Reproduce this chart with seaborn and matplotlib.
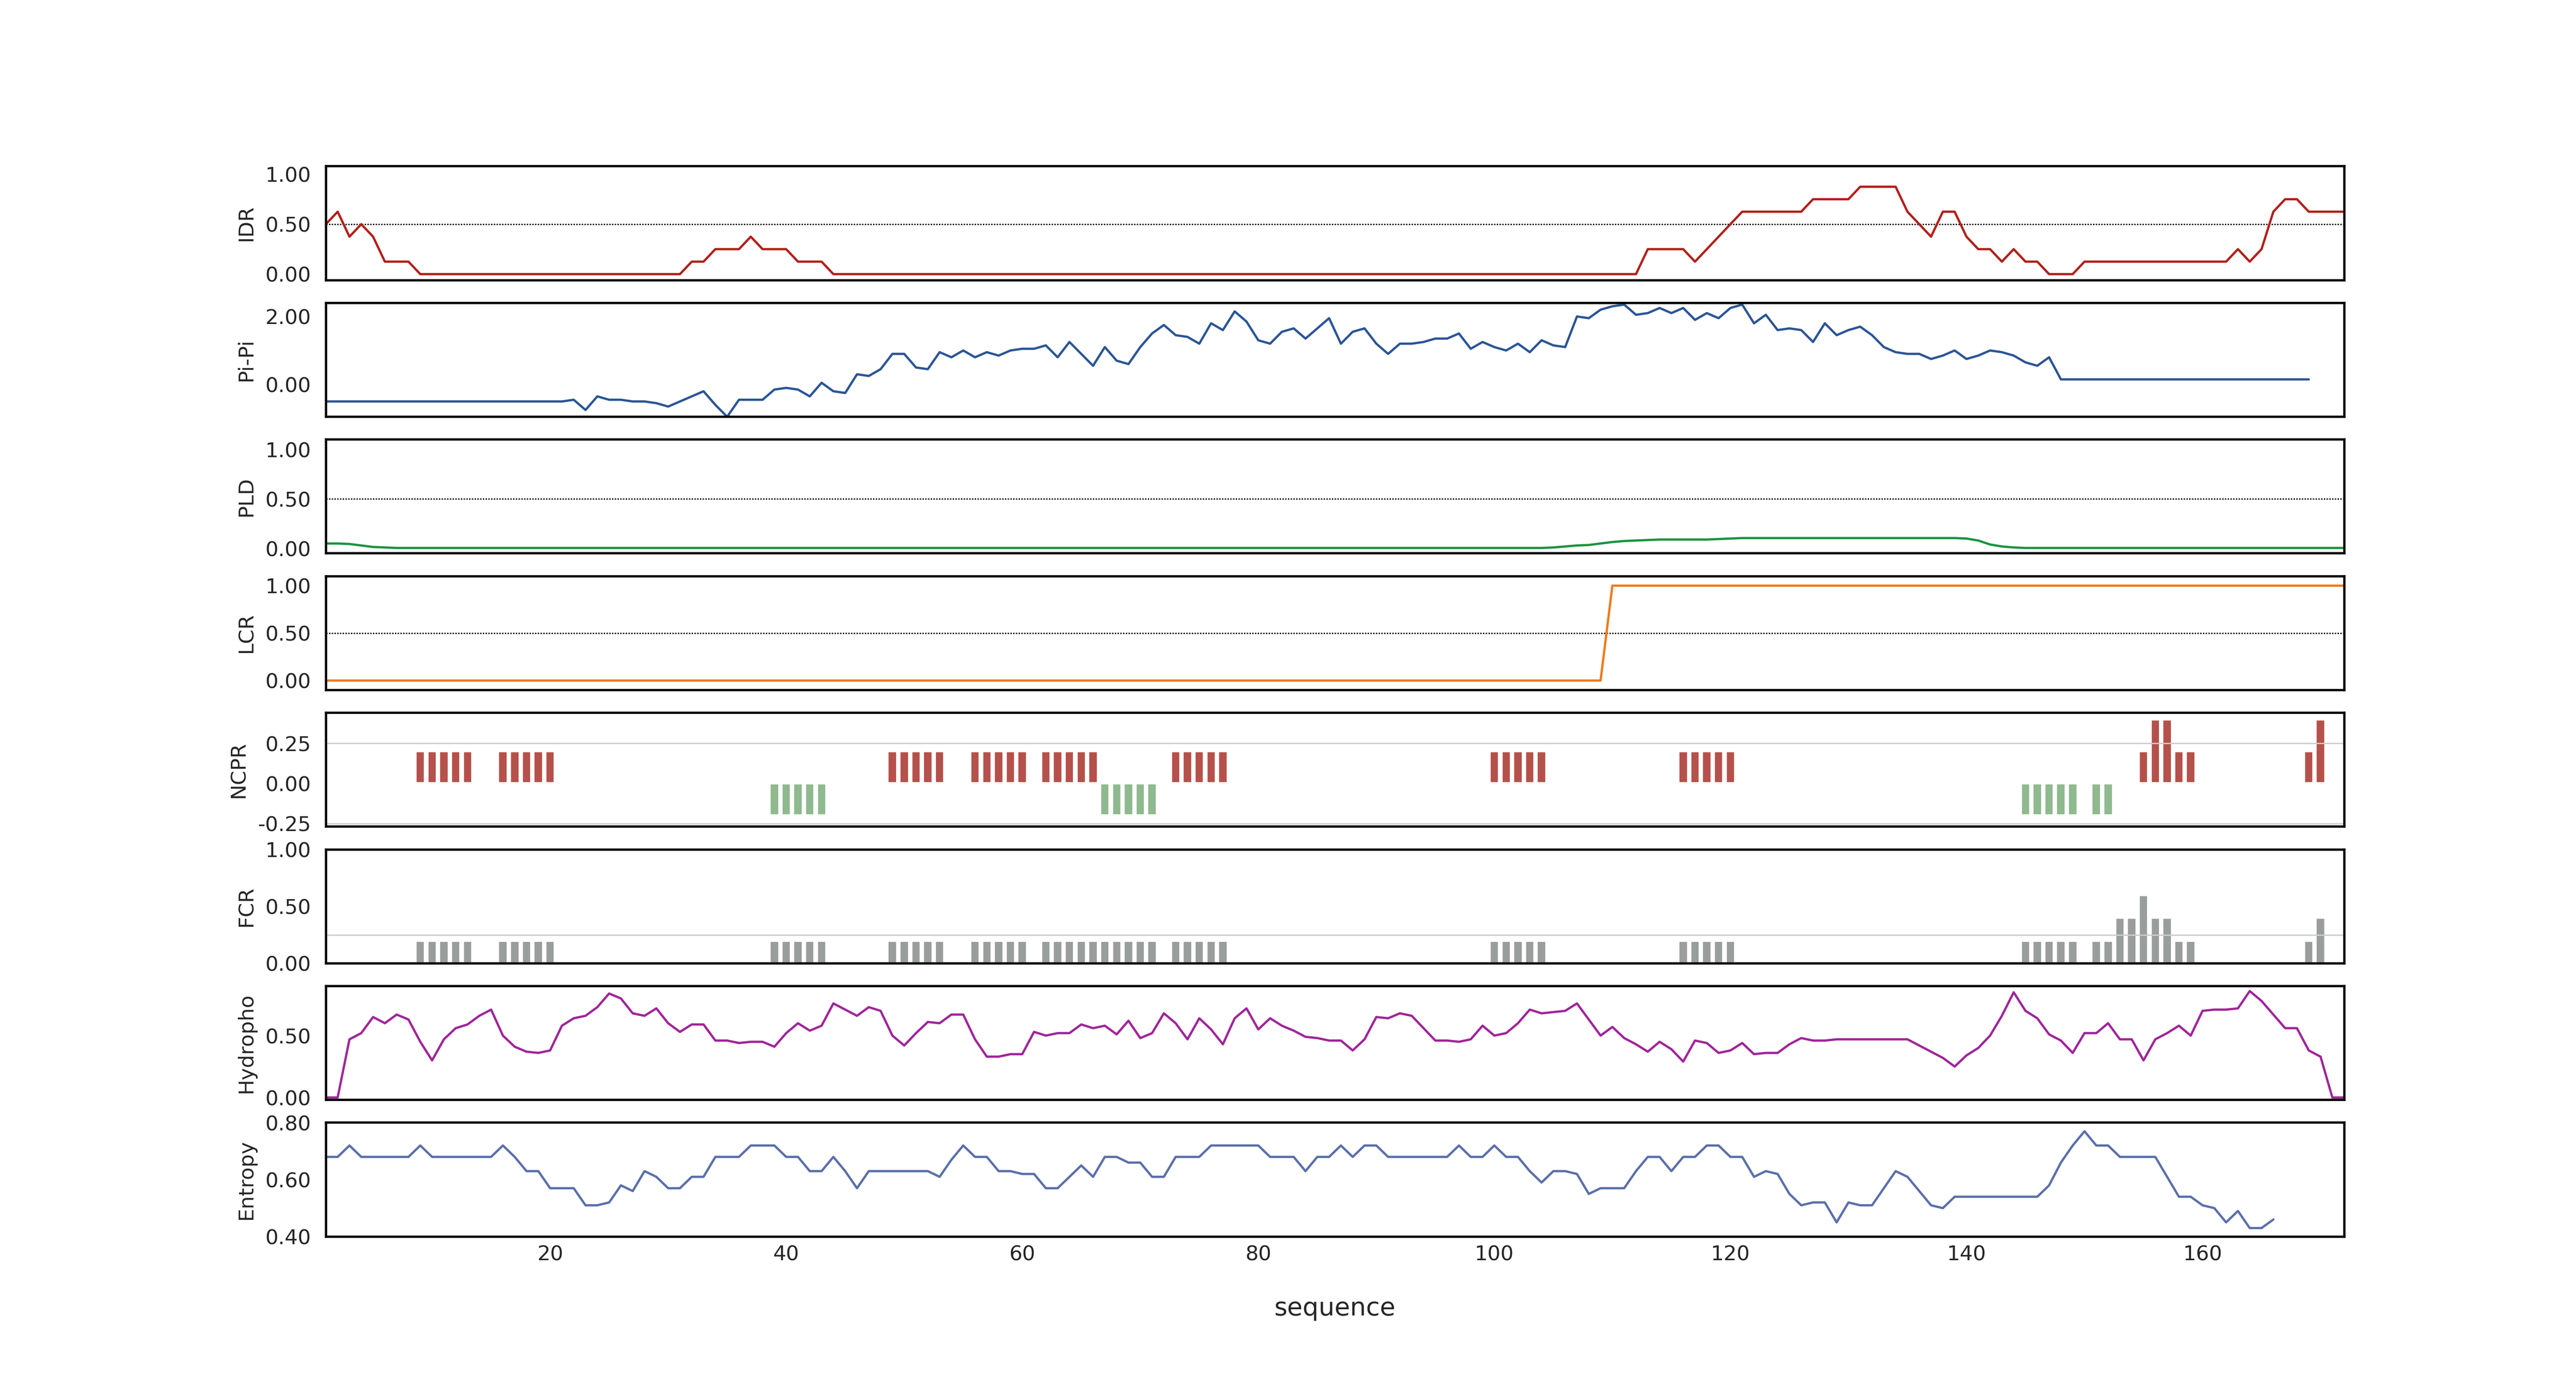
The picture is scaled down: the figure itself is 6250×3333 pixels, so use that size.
import numpy as np
import pandas as pd
import matplotlib
matplotlib.use("Agg")
import matplotlib.pyplot as plt
import seaborn as sns

# --- DATA ---
IDR = ([0.5, 0.625, 0.375, 0.5, 0.375] + [0.125] * 3 + [0.0] * 23
       + [0.125] * 2 + [0.25] * 3 + [0.375] + [0.25] * 3 + [0.125] * 3
       + [0.0] * 69 + [0.25] * 4 + [0.125, 0.25, 0.375, 0.5] + [0.625] * 6
       + [0.75] * 4 + [0.875] * 4 + [0.625, 0.5, 0.375, 0.625, 0.625, 0.375,
       0.25, 0.25, 0.125, 0.25, 0.125, 0.125] + [0.0] * 3 + [0.125] * 13
       + [0.25, 0.125, 0.25, 0.625, 0.75, 0.75] + [0.625] * 4)

PIPI = ([-0.5] * 21 + [-0.45, -0.75, -0.35, -0.45, -0.45, -0.5, -0.5, -0.55,
        -0.65, -0.5, -0.35, -0.2, -0.6, -0.95, -0.45, -0.45, -0.45, -0.15,
        -0.1, -0.15, -0.35, 0.05, -0.2, -0.25, 0.3, 0.25, 0.45, 0.9, 0.9,
        0.5, 0.45, 0.95, 0.8, 1.0, 0.8, 0.95, 0.85, 1.0, 1.05, 1.05, 1.15,
        0.8, 1.25, 0.9, 0.55, 1.1, 0.7, 0.6, 1.1, 1.5, 1.75, 1.45, 1.4, 1.2,
        1.8, 1.6, 2.15, 1.85, 1.3, 1.2, 1.55, 1.65, 1.35, 1.65, 1.95, 1.2,
        1.55, 1.65, 1.2, 0.9, 1.2, 1.2, 1.25, 1.35, 1.35, 1.5, 1.05, 1.25,
        1.1, 1.0, 1.2, 0.95, 1.3, 1.15, 1.1, 2.0, 1.95, 2.2, 2.3, 2.35, 2.05,
        2.1, 2.25, 2.1, 2.25, 1.9, 2.1, 1.95, 2.25, 2.35, 1.8, 2.05, 1.6,
        1.65, 1.6, 1.25, 1.8, 1.45, 1.6, 1.7, 1.45, 1.1, 0.95, 0.9, 0.9,
        0.75, 0.85, 1.0, 0.75, 0.85, 1.0, 0.95, 0.85, 0.65, 0.55, 0.8]
        + [0.15] * 22)

PLD = ([0.05, 0.05, 0.045, 0.03, 0.015, 0.01] + [0.005] * 98
       + [0.01, 0.02, 0.03, 0.035, 0.05, 0.065, 0.075, 0.08, 0.085, 0.09,
          0.09, 0.09, 0.09, 0.09, 0.095, 0.1, 0.105] + [0.105] * 18
       + [0.1, 0.08, 0.04, 0.02, 0.01] + [0.005] * 28)

LCR = [0.0] * 109 + [1.0] * 63

NCPR = ([0.0] * 8 + [0.2] * 5 + [0.0] * 2 + [0.2] * 5 + [0.0] * 18
        + [-0.2] * 5 + [0.0] * 5 + [0.2] * 5 + [0.0] * 2 + [0.2] * 5
        + [0.0] + [0.2] * 5 + [-0.2] * 5 + [0.0] + [0.2] * 5 + [0.0] * 22
        + [0.2] * 5 + [0.0] * 11 + [0.2] * 5 + [0.0] * 24 + [-0.2] * 5
        + [0.0] + [-0.2] * 2 + [0.0] * 2 + [0.2, 0.4, 0.4, 0.2, 0.2]
        + [0.0] * 9 + [0.2, 0.4])

FCR = ([0.0] * 8 + [0.2] * 5 + [0.0] * 2 + [0.2] * 5 + [0.0] * 18
       + [0.2] * 5 + [0.0] * 5 + [0.2] * 5 + [0.0] * 2 + [0.2] * 5
       + [0.0] + [0.2] * 10 + [0.0] + [0.2] * 5 + [0.0] * 22
       + [0.2] * 5 + [0.0] * 11 + [0.2] * 5 + [0.0] * 24 + [0.2] * 5
       + [0.0] + [0.2, 0.2, 0.4, 0.4, 0.6, 0.4, 0.4, 0.2, 0.2]
       + [0.0] * 9 + [0.2, 0.4])

HYDRO = [0.0, 0.0, 0.47, 0.52, 0.65, 0.6, 0.67, 0.63, 0.45, 0.3, 0.47, 0.56,
         0.59, 0.66, 0.71, 0.5, 0.41, 0.37, 0.36, 0.38, 0.58, 0.64, 0.66,
         0.73, 0.84, 0.8, 0.68, 0.66, 0.72, 0.6, 0.53, 0.59, 0.59, 0.46,
         0.46, 0.44, 0.45, 0.45, 0.41, 0.52, 0.6, 0.54, 0.58, 0.76, 0.71,
         0.66, 0.73, 0.7, 0.5, 0.42, 0.52, 0.61, 0.6, 0.67, 0.67, 0.47,
         0.33, 0.33, 0.35, 0.35, 0.53, 0.5, 0.52, 0.52, 0.59, 0.56, 0.58,
         0.51, 0.62, 0.48, 0.52, 0.68, 0.6, 0.47, 0.64, 0.55, 0.43, 0.64,
         0.72, 0.55, 0.64, 0.58, 0.54, 0.49, 0.48, 0.46, 0.46, 0.38, 0.47,
         0.65, 0.64, 0.68, 0.66, 0.56, 0.46, 0.46, 0.45, 0.47, 0.58, 0.5,
         0.52, 0.6, 0.71, 0.68, 0.69, 0.7, 0.76, 0.63, 0.5, 0.57, 0.48,
         0.43, 0.37, 0.45, 0.39, 0.29, 0.46, 0.44, 0.36, 0.38, 0.44, 0.35,
         0.36, 0.36, 0.43, 0.48, 0.46, 0.46, 0.47, 0.47, 0.47, 0.47, 0.47,
         0.47, 0.47, 0.42, 0.37, 0.32, 0.25, 0.34, 0.4, 0.5, 0.66, 0.85,
         0.7, 0.64, 0.51, 0.46, 0.36, 0.52, 0.52, 0.6, 0.47, 0.47, 0.3,
         0.47, 0.52, 0.58, 0.5, 0.7, 0.71, 0.71, 0.72, 0.86, 0.78, 0.67,
         0.56, 0.56, 0.38, 0.33, 0.0, 0.0]

ENTROPY = [0.68, 0.68, 0.72, 0.68, 0.68, 0.68, 0.68, 0.68, 0.72, 0.68, 0.68,
           0.68, 0.68, 0.68, 0.68, 0.72, 0.68, 0.63, 0.63, 0.57, 0.57, 0.57,
           0.51, 0.51, 0.52, 0.58, 0.56, 0.63, 0.61, 0.57, 0.57, 0.61, 0.61,
           0.68, 0.68, 0.68, 0.72, 0.72, 0.72, 0.68, 0.68, 0.63, 0.63, 0.68,
           0.63, 0.57, 0.63, 0.63, 0.63, 0.63, 0.63, 0.63, 0.61, 0.67, 0.72,
           0.68, 0.68, 0.63, 0.63, 0.62, 0.62, 0.57, 0.57, 0.61, 0.65, 0.61,
           0.68, 0.68, 0.66, 0.66, 0.61, 0.61, 0.68, 0.68, 0.68, 0.72, 0.72,
           0.72, 0.72, 0.72, 0.68, 0.68, 0.68, 0.63, 0.68, 0.68, 0.72, 0.68,
           0.72, 0.72, 0.68, 0.68, 0.68, 0.68, 0.68, 0.68, 0.72, 0.68, 0.68,
           0.72, 0.68, 0.68, 0.63, 0.59, 0.63, 0.63, 0.62, 0.55, 0.57, 0.57,
           0.57, 0.63, 0.68, 0.68, 0.63, 0.68, 0.68, 0.72, 0.72, 0.68, 0.68,
           0.61, 0.63, 0.62, 0.55, 0.51, 0.52, 0.52, 0.45, 0.52, 0.51, 0.51,
           0.57, 0.63, 0.61, 0.56, 0.51, 0.5, 0.54, 0.54, 0.54, 0.54, 0.54,
           0.54, 0.54, 0.54, 0.58, 0.66, 0.72, 0.77, 0.72, 0.72, 0.68, 0.68,
           0.68, 0.68, 0.61, 0.54, 0.54, 0.51, 0.5, 0.45, 0.49, 0.43, 0.43,
           0.46]


def seq(vals):
    return pd.DataFrame({"x": np.arange(1, len(vals) + 1), "y": vals})


sns.set_theme(style="white", rc={"font.family": "DejaVu Sans"})
plt.rcParams.update({"xtick.direction": "in", "ytick.direction": "out",
                     "axes.edgecolor": "black", "axes.linewidth": 1.0})

fig, axes = plt.subplots(8, 1, figsize=(15.625, 8.3325), sharex=True)
fig.subplots_adjust(left=0.1265, right=0.910, top=0.879, bottom=0.10, hspace=0.2)

lines = [
    (0, IDR, "#b2201a", "IDR", (-0.06, 1.08), [0, 0.5, 1.0], 0.5),
    (1, PIPI, "#2b5596", "Pi-Pi", (-0.95, 2.4), [0, 2.0], None),
    (2, PLD, "#1a9440", "PLD", (-0.05, 1.1), [0, 0.5, 1.0], 0.5),
    (3, LCR, "#f07a1a", "LCR", (-0.1, 1.1), [0, 0.5, 1.0], 0.5),
    (6, HYDRO, "#a0259a", "Hydropho", (-0.02, 0.9), [0, 0.5], None),
    (7, ENTROPY, "#5a6fab", "Entropy", (0.4, 0.8), [0.4, 0.6, 0.8], None),
]
for i, vals, col, lab, ylim, yt, ref in lines:
    ax = axes[i]
    if ref is not None:
        ax.axhline(ref, color="black", lw=0.6, ls=(0, (1, 1)))
    sns.lineplot(data=seq(vals), x="x", y="y", color=col, lw=1.0, ax=ax)
    ax.set_ylim(*ylim)
    ax.set_yticks(yt)
    ax.set_ylabel(lab, fontsize=9)

# NCPR bars
ax = axes[4]
ncpr = seq(NCPR)
ax.axhline(0.25, color="#cccccc", lw=0.6)
ax.axhline(-0.25, color="#cccccc", lw=0.6)
pos = ncpr[ncpr.y > 0]
neg = ncpr[ncpr.y < 0]
ax.bar(pos.x, pos.y, width=0.82, color="#b5514a")
ax.bar(neg.x, neg.y, width=0.82, color="#8fb98f")
ax.set_ylim(-0.27, 0.44)
ax.set_yticks([-0.25, 0, 0.25])
ax.set_ylabel("NCPR", fontsize=9)

# FCR bars
ax = axes[5]
fcr = seq(FCR)
ax.axhline(0.25, color="#cccccc", lw=0.6)
nz = fcr[fcr.y > 0]
ax.bar(nz.x, nz.y, width=0.82, color="#999e9d")
ax.set_ylim(0, 1.0)
ax.set_yticks([0, 0.5, 1.0])
ax.set_ylabel("FCR", fontsize=9)

for ax in axes:
    ax.set_xlim(1, 172)
    ax.set_xticks([20, 40, 60, 80, 100, 120, 140, 160])
    ax.yaxis.set_major_formatter(matplotlib.ticker.FormatStrFormatter("%.2f"))
    ax.tick_params(axis="both", labelsize=9, length=3, width=0.8)
    ax.set_xlabel("")
    for s in ax.spines.values():
        s.set_visible(True)
        s.set_linewidth(1.0)
axes[-1].set_xlabel("sequence", fontsize=11, labelpad=14)

fig.savefig("out.png", dpi=400)
